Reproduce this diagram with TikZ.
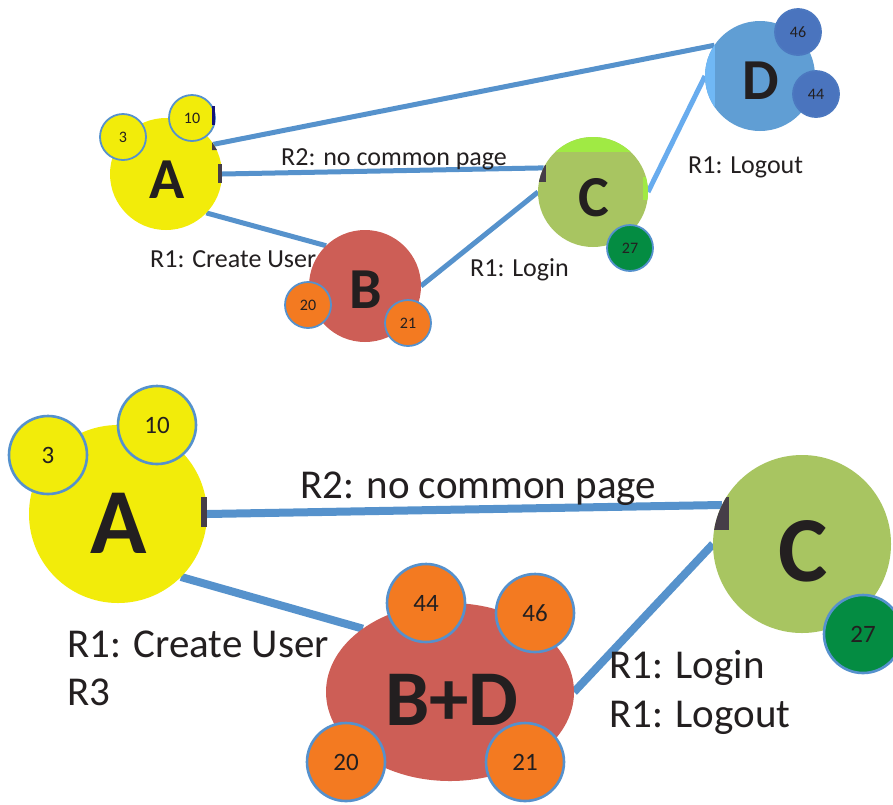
\documentclass[tikz,border=0pt]{standalone}
\usepackage{fontspec}
\setmainfont{Carlito}
\usetikzlibrary{shapes.geometric}
\definecolor{yel}{RGB}{242,236,10}
\definecolor{redb}{RGB}{205,94,86}
\definecolor{ora}{RGB}{243,122,33}
\definecolor{olive}{RGB}{168,197,97}
\definecolor{lime}{RGB}{160,234,68}
\definecolor{dgreen}{RGB}{4,140,66}
\definecolor{dblue}{RGB}{96,158,212}
\definecolor{lblue}{RGB}{112,184,245}
\definecolor{nblue}{RGB}{74,116,190}
\definecolor{outl}{RGB}{85,145,205}
\definecolor{link}{RGB}{86,146,204}
\definecolor{linkl}{RGB}{104,172,238}
\definecolor{txt}{RGB}{35,31,32}
\definecolor{glitchc}{RGB}{70,62,72}
\definecolor{glitchb}{RGB}{20,20,120}
\pgfdeclarelayer{paper}
\pgfdeclarelayer{bg}
\pgfsetlayers{paper,bg,main}
\tikzset{
  bigc/.style={circle, inner sep=0pt, outer sep=0pt, minimum size=#1},
  smallc/.style={circle, draw=outl, line width=1.8pt, inner sep=0pt, outer sep=0pt,
    minimum size=46pt, font=\fontsize{16}{16}\selectfont, text=txt},
  bignum/.style={circle, draw=outl, line width=2.6pt, inner sep=0pt, outer sep=0pt,
    minimum size=78pt, font=\fontsize{25}{25}\selectfont, text=txt},
  toplink/.style={draw=link, line width=5pt},
  botlink/.style={draw=link, line width=8pt},
  toplab/.style={anchor=base, inner sep=0pt, font=\fontsize{58}{58}\selectfont\bfseries, text=txt},
  botlab/.style={anchor=base, inner sep=0pt, font=\fontsize{93}{93}\selectfont\bfseries, text=txt},
  topedge/.style={anchor=base west, inner sep=0pt, font=\fontsize{26}{31}\selectfont, text=txt},
  botedge/.style={anchor=base west, inner sep=0pt, font=\fontsize{41}{48}\selectfont, text=txt, align=left},
}
\begin{document}
\begin{tikzpicture}[x=1pt,y=-1pt]
\clip (0,0) rectangle (893,804);
\begin{pgfonlayer}{paper}
\fill[white] (0,0) rectangle (893,804);
\end{pgfonlayer}

% ---------------- top diagram ----------------
\node[bigc=112pt, fill=yel] (A1) at (166,174) {};
\node[bigc=112pt, fill=redb] (B1) at (365,286) {};
\node[bigc=110pt, fill=olive] (C1) at (593,192) {};
\node[bigc=110pt, fill=dblue] (D1) at (760,76) {};
\begin{scope}
  \clip (593,192) circle (55pt);
  \fill[lime] (530,130) rectangle (660,152);
  \fill[lime] (643,177) rectangle (650,200);
  \fill[glitchc] (530,165) rectangle (546,182);
\end{scope}
\begin{scope}
  \clip (760,76) circle (55pt);
  \fill[lblue] (700,15) rectangle (715,135);
\end{scope}

\begin{pgfonlayer}{bg}
\draw[toplink] (A1.32) -- (D1.146);
\draw[toplink] (A1.0) -- (C1.154);
\draw[toplink] (A1.-44) -- (B1.134);
\draw[toplink] (B1.0) -- (C1.180);
\draw[toplink, draw=linkl] (C1.0) -- (D1.180);
\end{pgfonlayer}

\node[smallc, fill=yel] (n3a) at (123,137) {3};
\node[smallc, fill=yel] (n10a) at (192,118) {10};
\node[smallc, fill=ora] (n20a) at (308,305) {20};
\node[smallc, fill=ora] (n21a) at (408,323) {21};
\node[smallc, fill=dgreen] (n27a) at (630,248) {27};
\node[smallc, fill=nblue, draw=nblue!85!outl] (n46a) at (798,32) {46};
\node[smallc, fill=nblue, draw=nblue!85!outl] (n44a) at (816,94) {44};

\fill[glitchb] (212,106) rectangle (215,125);
\fill[glitchc] (212,142) -- (217,150) -- (212,150) -- cycle;
\fill[glitchc] (218,164) rectangle (222,183);

\node[toplab] (Alab1) at (167,198) {A};
\node[toplab] (Blab1) at (366,308) {B};
\node[toplab] (Clab1) at (594,216) {C};
\node[toplab] (Dlab1) at (761,99) {D};

\node[topedge] (e1) at (281,165) {R2: no common page};
\node[topedge] (e2) at (150,267) {R1: Create User};
\node[topedge] (e3) at (470,276) {R1: Login};
\node[topedge] (e4) at (688,173) {R1: Logout};

% ---------------- bottom diagram ----------------
\node[bigc=178pt, fill=yel] (A2) at (118,514) {};
\node[ellipse, inner sep=0pt, outer sep=0pt, minimum width=248pt, minimum height=178pt, fill=redb] (BD2) at (450,692) {};
\node[bigc=178pt, fill=olive] (C2) at (802,544) {};
\begin{scope}
  \clip (802,544) circle (89pt);
  \fill[glitchc] (700,497) rectangle (729,530);
\end{scope}

\begin{pgfonlayer}{bg}
\draw[botlink] (A2.0) -- (C2.154);
\draw[botlink] (A2.-45) -- (BD2.144);
\draw[botlink] (BD2.0) -- (C2.180);
\end{pgfonlayer}

\node[bignum, fill=yel] (n3b) at (48,455) {3};
\node[bignum, fill=yel] (n10b) at (157,425) {10};
\node[bignum, fill=ora] (n44b) at (426,603) {44};
\node[bignum, fill=ora] (n46b) at (535,613) {46};
\node[bignum, fill=ora] (n20b) at (346,762) {20};
\node[bignum, fill=ora] (n21b) at (525,762) {21};
\node[bignum, fill=dgreen] (n27b) at (863,634) {27};

\fill[glitchc] (201,497) rectangle (207,527);

\node[botlab] (Alab2) at (119,553) {A};
\node[botlab, font=\fontsize{79}{79}\selectfont\bfseries] (BDlab2) at (452,725) {B+D};
\node[botlab] (Clab2) at (803,581) {C};

\node[botedge] (f1) at (300,498) {R2: no common page};
\node[botedge] (f2) at (67,657) {R1: Create User};
\node[botedge] (f3) at (67,705) {R3};
\node[botedge] (f4) at (609,678) {R1: Login};
\node[botedge] (f5) at (609,727) {R1: Logout};
\end{tikzpicture}
\end{document}
